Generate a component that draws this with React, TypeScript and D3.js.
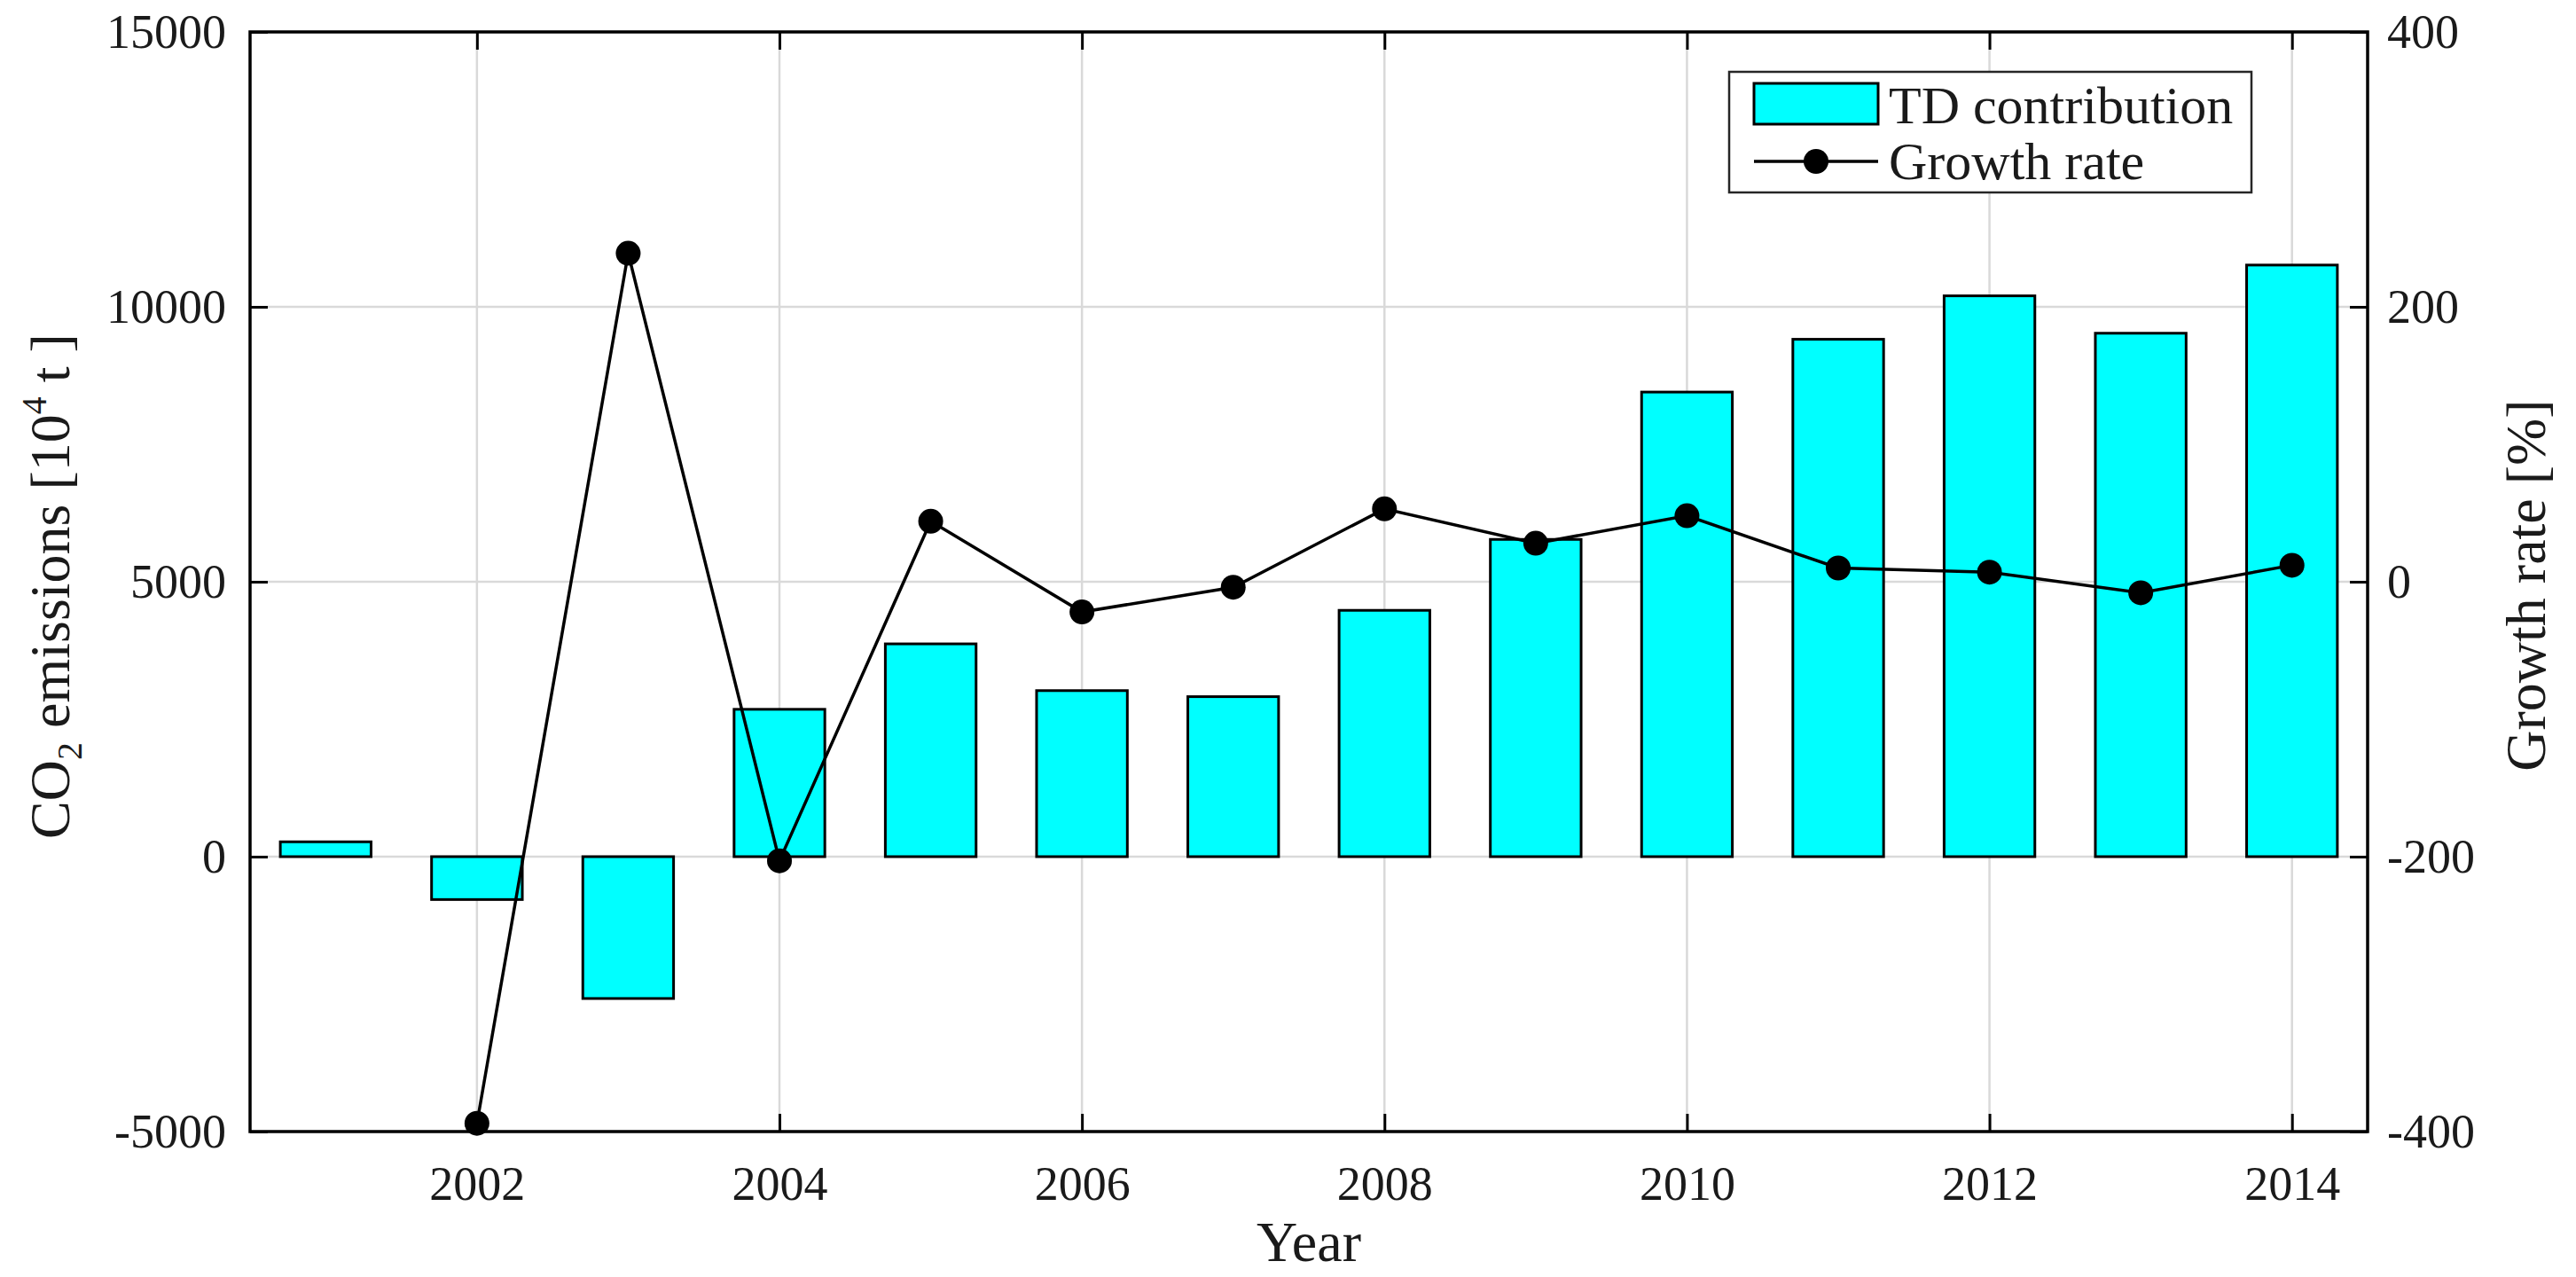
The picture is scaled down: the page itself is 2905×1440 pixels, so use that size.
import { useEffect, useRef } from "react";
import * as d3 from "d3";

const YEARS = [2001, 2002, 2003, 2004, 2005, 2006, 2007, 2008, 2009, 2010, 2011, 2012, 2013, 2014];
const TD_CONTRIBUTION = [270, -780, -2580, 2680, 3870, 3020, 2910, 4480, 5770, 8450, 9410, 10200, 9520, 10760];
const GROWTH_YEARS = YEARS.slice(1);
const GROWTH_RATE = [-394, 239, -203, 44, -22, -4, 53, 28, 48, 10, 7, -8, 12];

const LEFT_TICKS = [-5000, 0, 5000, 10000, 15000];
const RIGHT_TICKS = [-400, -200, 0, 200, 400];
const YEAR_TICKS = [2002, 2004, 2006, 2008, 2010, 2012, 2014];

const FONT = "'Liberation Serif', 'Times New Roman', serif";
const BAR_FILL = "#00ffff";
const GRID = "#d9d9d9";

export default function App() {
  const svgRef = useRef<SVGSVGElement>(null);

  useEffect(() => {
    if (!svgRef.current) return;

    const W = 2905;
    const H = 1440;
    const plot = { left: 282, right: 2670, top: 36, bottom: 1276 };
    const tick = 20;

    const svg = d3.select(svgRef.current);
    svg.selectAll("*").remove();
    svg.attr("width", W).attr("height", H).attr("viewBox", `0 0 ${W} ${H}`);

    const x = d3.scaleLinear().domain([2000.5, 2014.5]).range([plot.left, plot.right]);
    const yLeft = d3.scaleLinear().domain([-5000, 15000]).range([plot.bottom, plot.top]);
    const yRight = d3.scaleLinear().domain([-400, 400]).range([plot.bottom, plot.top]);

    svg.append("rect").attr("width", W).attr("height", H).attr("fill", "#fff");

    // grid
    const grid = svg.append("g").attr("stroke", GRID).attr("stroke-width", 2.5);
    grid.selectAll(".gx")
      .data(YEAR_TICKS)
      .join("line")
      .attr("x1", (d) => x(d))
      .attr("x2", (d) => x(d))
      .attr("y1", plot.top)
      .attr("y2", plot.bottom);
    grid.selectAll(".gy")
      .data(LEFT_TICKS)
      .join("line")
      .attr("x1", plot.left)
      .attr("x2", plot.right)
      .attr("y1", (d) => yLeft(d))
      .attr("y2", (d) => yLeft(d));

    // bars
    const barW = (x(1) - x(0)) * 0.6;
    svg.append("g")
      .selectAll("rect")
      .data(YEARS.map((year, i) => ({ year, value: TD_CONTRIBUTION[i] })))
      .join("rect")
      .attr("x", (d) => x(d.year) - barW / 2)
      .attr("width", barW)
      .attr("y", (d) => Math.min(yLeft(d.value), yLeft(0)))
      .attr("height", (d) => Math.abs(yLeft(d.value) - yLeft(0)))
      .attr("fill", BAR_FILL)
      .attr("stroke", "#000")
      .attr("stroke-width", 3);

    // growth rate line
    const points = GROWTH_YEARS.map((year, i) => ({ year, value: GROWTH_RATE[i] }));
    const line = d3
      .line<{ year: number; value: number }>()
      .x((d) => x(d.year))
      .y((d) => yRight(d.value));
    svg.append("path")
      .datum(points)
      .attr("d", line)
      .attr("fill", "none")
      .attr("stroke", "#000")
      .attr("stroke-width", 3.5);
    svg.append("g")
      .selectAll("circle")
      .data(points)
      .join("circle")
      .attr("cx", (d) => x(d.year))
      .attr("cy", (d) => yRight(d.value))
      .attr("r", 14)
      .attr("fill", "#000");

    // axes, ticks inward
    const styleAxis = (g: d3.Selection<SVGGElement, unknown, null, undefined>) => {
      g.select(".domain").remove();
      g.selectAll(".tick line").attr("stroke", "#000").attr("stroke-width", 3);
      g.selectAll(".tick text")
        .attr("fill", "#1a1a1a")
        .attr("font-family", FONT)
        .attr("font-size", 54);
    };

    svg.append("g")
      .attr("transform", `translate(${plot.left},0)`)
      .call(d3.axisLeft(yLeft).tickValues(LEFT_TICKS).tickSize(-tick).tickPadding(27).tickFormat(d3.format("d")))
      .call(styleAxis);

    svg.append("g")
      .attr("transform", `translate(${plot.right},0)`)
      .call(d3.axisRight(yRight).tickValues(RIGHT_TICKS).tickSize(-tick).tickPadding(22).tickFormat(d3.format("d")))
      .call(styleAxis);

    svg.append("g")
      .attr("transform", `translate(0,${plot.bottom})`)
      .call(d3.axisBottom(x).tickValues(YEAR_TICKS).tickSize(-tick).tickPadding(39).tickFormat(d3.format("d")))
      .call(styleAxis);

    svg.append("g")
      .attr("transform", `translate(0,${plot.top})`)
      .call(d3.axisTop(x).tickValues(YEAR_TICKS).tickSize(-tick).tickFormat(() => ""))
      .call(styleAxis);

    // minus signs as plain hyphens
    svg.selectAll(".tick text").text(function () {
      return (d3.select(this).text() || "").replace("\u2212", "-");
    });

    // box
    svg.append("rect")
      .attr("x", plot.left)
      .attr("y", plot.top)
      .attr("width", plot.right - plot.left)
      .attr("height", plot.bottom - plot.top)
      .attr("fill", "none")
      .attr("stroke", "#000")
      .attr("stroke-width", 3.5);

    // axis titles
    const labels = svg.append("g").attr("font-family", FONT).attr("font-size", 64).attr("fill", "#1a1a1a");
    labels.append("text")
      .attr("x", (plot.left + plot.right) / 2)
      .attr("y", 1422)
      .attr("text-anchor", "middle")
      .text("Year");

    const leftTitle = labels.append("text")
      .attr("transform", `translate(78,661) rotate(-90)`)
      .attr("text-anchor", "middle");
    leftTitle.append("tspan").text("CO");
    leftTitle.append("tspan").attr("font-size", 40).attr("dy", 14).text("2");
    leftTitle.append("tspan").attr("dy", -14).text(" emissions [10");
    leftTitle.append("tspan").attr("font-size", 40).attr("dy", -26).text("4");
    leftTitle.append("tspan").attr("dy", 26).text(" t ]");

    labels.append("text")
      .attr("transform", `translate(2870,660) rotate(-90)`)
      .attr("text-anchor", "middle")
      .text("Growth rate [%]");

    // legend
    const lg = svg.append("g");
    lg.append("rect")
      .attr("x", 1950)
      .attr("y", 81)
      .attr("width", 589)
      .attr("height", 136)
      .attr("fill", "#fff")
      .attr("stroke", "#262626")
      .attr("stroke-width", 2.5);
    lg.append("rect")
      .attr("x", 1978)
      .attr("y", 94)
      .attr("width", 140)
      .attr("height", 46)
      .attr("fill", BAR_FILL)
      .attr("stroke", "#000")
      .attr("stroke-width", 3);
    lg.append("line")
      .attr("x1", 1978)
      .attr("x2", 2118)
      .attr("y1", 182)
      .attr("y2", 182)
      .attr("stroke", "#000")
      .attr("stroke-width", 3.5);
    lg.append("circle").attr("cx", 2048).attr("cy", 182).attr("r", 14).attr("fill", "#000");
    const lgText = lg.append("g").attr("font-family", FONT).attr("font-size", 60).attr("fill", "#1a1a1a");
    lgText.append("text").attr("x", 2130).attr("y", 139).text("TD contribution");
    lgText.append("text").attr("x", 2130).attr("y", 202).text("Growth rate");
  }, []);

  return (
    <div style={{ position: "absolute", left: 0, top: 0 }}>
      <svg ref={svgRef} style={{ display: "block" }} />
    </div>
  );
}
